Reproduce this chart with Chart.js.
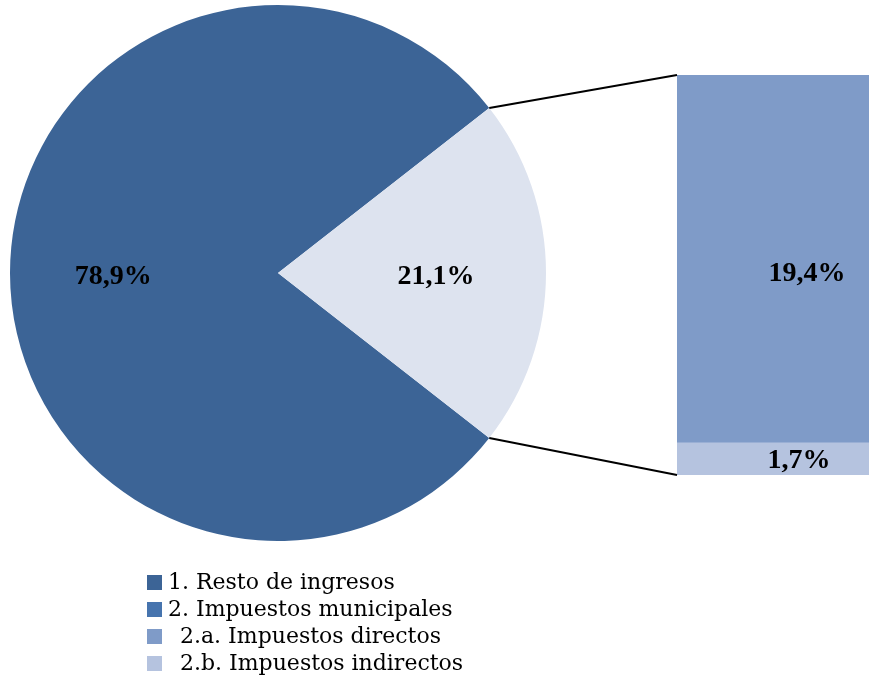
<!DOCTYPE html>
<html><head><meta charset="utf-8">
<script src="https://cdn.jsdelivr.net/npm/chart.js@4.4.0/dist/chart.umd.min.js"></script>
<style>
html,body{margin:0;padding:0;background:#fff;width:870px;height:679px;overflow:hidden;position:relative;font-family:"Liberation Serif",serif;}
#pieWrap{position:absolute;left:10px;top:5px;width:536px;height:536px;}
#barWrap{position:absolute;left:677px;top:75px;width:192px;height:400px;}
#overlay{position:absolute;left:0;top:0;}
#legend{position:absolute;left:147px;top:568px;font-size:22px;color:#000;font-family:"DejaVu Serif",serif;}
.li{height:27px;line-height:27px;white-space:nowrap;position:relative;}
.sw{position:absolute;left:0;top:7px;width:15px;height:15px;}
.tx{position:absolute;top:0;}
</style></head><body>
<div id="pieWrap"><canvas id="pie"></canvas></div>
<div id="barWrap"><canvas id="bar"></canvas></div>
<canvas id="overlay" width="870" height="679"></canvas>
<div id="legend"></div>
<script>
const pieLabels = ["1. Resto de ingresos", "2. Impuestos municipales"];
const pieValues = [78.9, 21.1];
const barLabels = ["2.a. Impuestos directos", "2.b. Impuestos indirectos"];
const barValues = [19.4, 1.7];
const legendItems = ["1. Resto de ingresos", "2. Impuestos municipales", "2.a. Impuestos directos", "2.b. Impuestos indirectos"];
const legendColors = ["#3C6496", "#4674AE", "#7F9BC8", "#B5C3DF"];
const pieColors = ["#3C6496", "#DDE3EF"];
const barColors = ["#7F9BC8", "#B5C3DF"];

const fmt = v => v.toFixed(1).replace('.', ',') + '%';
const labelFont = 'bold 28px "Liberation Serif", serif';

const pieLabelPlugin = {
  id: 'pieLabels',
  afterDatasetsDraw(chart) {
    const ctx = chart.ctx;
    const meta = chart.getDatasetMeta(0);
    ctx.save();
    ctx.font = labelFont; ctx.fillStyle = '#000';
    ctx.textAlign = 'center'; ctx.textBaseline = 'middle';
    const factors = [0.615, 0.59];
    meta.data.forEach((arc, i) => {
      const p = arc.getProps(['x','y','startAngle','endAngle','outerRadius']);
      const mid = (p.startAngle + p.endAngle) / 2;
      const r = p.outerRadius * factors[i];
      ctx.fillText(fmt(pieValues[i]), p.x + Math.cos(mid) * r, p.y + Math.sin(mid) * r + 4);
    });
    ctx.restore();
  }
};

const pieChart = new Chart(document.getElementById('pie'), {
  type: 'pie',
  data: { labels: pieLabels, datasets: [{ data: pieValues, backgroundColor: pieColors, borderWidth: 0 }] },
  options: {
    responsive: true, maintainAspectRatio: false, animation: false,
    rotation: 90 + (pieValues[1] / 2) / 100 * 360,
    layout: { padding: 0 },
    plugins: { legend: { display: false }, tooltip: { enabled: false } }
  },
  plugins: [pieLabelPlugin]
});

const barChart = new Chart(document.getElementById('bar'), {
  type: 'bar',
  data: {
    labels: [''],
    datasets: [
      { label: barLabels[1], data: [barValues[1]], backgroundColor: barColors[1], borderWidth: 0, barPercentage: 1, categoryPercentage: 1 },
      { label: barLabels[0], data: [barValues[0]], backgroundColor: barColors[0], borderWidth: 0, barPercentage: 1, categoryPercentage: 1 }
    ]
  },
  options: {
    responsive: true, maintainAspectRatio: false, animation: false,
    layout: { padding: 0 },
    scales: {
      x: { stacked: true, display: false },
      y: { stacked: true, display: false, min: 0, max: barValues[0] + barValues[1] }
    },
    plugins: { legend: { display: false }, tooltip: { enabled: false } }
  },
  plugins: [{
    id: 'barLabels',
    afterDatasetsDraw(chart) {
      const ctx = chart.ctx;
      ctx.save();
      ctx.font = labelFont; ctx.fillStyle = '#000';
      ctx.textAlign = 'center'; ctx.textBaseline = 'middle';
      const vals = [barValues[1], barValues[0]];
      const xOff = [26, 34];
      chart.data.datasets.forEach((ds, i) => {
        const p = chart.getDatasetMeta(i).data[0].getProps(['x','y','base']);
        const yOff = i === 1 ? 15 : 2;
        ctx.fillText(fmt(vals[i]), p.x + xOff[i], (p.y + p.base) / 2 + yOff);
      });
      ctx.restore();
    }
  }]
});

// connectors
(function drawConnectors(){
  const ov = document.getElementById('overlay').getContext('2d');
  const pw = document.getElementById('pieWrap'), bw = document.getElementById('barWrap');
  const arc = pieChart.getDatasetMeta(0).data[1].getProps(['x','y','startAngle','endAngle','outerRadius']);
  const px = pw.offsetLeft, py = pw.offsetTop, bx = bw.offsetLeft, by = bw.offsetTop;
  const a1 = { x: px + arc.x + Math.cos(arc.startAngle) * arc.outerRadius, y: py + arc.y + Math.sin(arc.startAngle) * arc.outerRadius };
  const a2 = { x: px + arc.x + Math.cos(arc.endAngle) * arc.outerRadius, y: py + arc.y + Math.sin(arc.endAngle) * arc.outerRadius };
  const topEl = barChart.getDatasetMeta(1).data[0].getProps(['x','y','width']);
  const botEl = barChart.getDatasetMeta(0).data[0].getProps(['x','base','width']);
  const b1 = { x: bx + topEl.x - topEl.width / 2, y: by + topEl.y };
  const b2 = { x: bx + botEl.x - botEl.width / 2, y: by + botEl.base };
  ov.strokeStyle = '#000'; ov.lineWidth = 2;
  ov.beginPath(); ov.moveTo(a1.x, a1.y); ov.lineTo(b1.x, b1.y); ov.stroke();
  ov.beginPath(); ov.moveTo(a2.x, a2.y); ov.lineTo(b2.x, b2.y); ov.stroke();
})();

// legend
const lg = document.getElementById('legend');
legendItems.forEach((t, i) => {
  const d = document.createElement('div'); d.className = 'li';
  const s = document.createElement('span'); s.className = 'sw'; s.style.background = legendColors[i];
  const x = document.createElement('span'); x.className = 'tx'; x.style.left = (i < 2 ? 21 : 33) + 'px'; x.textContent = t;
  d.appendChild(s); d.appendChild(x); lg.appendChild(d);
});
</script>
</body></html>
